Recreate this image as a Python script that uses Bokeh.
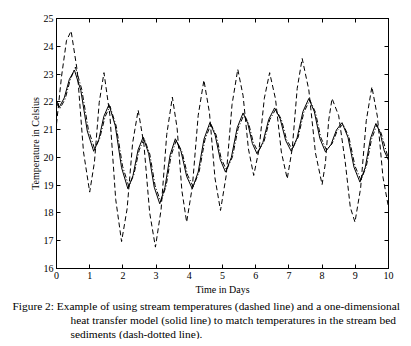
from bokeh.plotting import figure
from bokeh.models import Range1d, LinearAxis, Title, CustomJSTickFormatter, FixedTicker
from bokeh.embed import file_html
from bokeh.resources import INLINE

# ---- data ----
stream_t = [0.0, 0.15, 0.3, 0.44, 0.627, 0.813, 1.0, 1.143, 1.287, 1.43, 1.607, 1.783, 1.96, 2.127, 2.293,
            2.46, 2.633, 2.807, 2.98, 3.15, 3.32, 3.49, 3.633, 3.777, 3.92, 4.093, 4.267, 4.44, 4.607, 4.773,
            4.94, 5.113, 5.287, 5.46, 5.62, 5.78, 5.94, 6.1, 6.26, 6.42, 6.597, 6.773, 6.95, 7.1, 7.25,
            7.4, 7.6, 7.8, 8.0, 8.1, 8.2, 8.3, 8.5, 8.7, 8.85, 8.99, 9.16, 9.33, 9.5, 9.667, 9.833, 10.0]
stream_v = [21.2, 22.9, 24.2, 24.55, 23.1, 20.2, 18.75, 19.83, 21.98, 23.05, 21.53, 18.49, 16.97, 18.15, 20.52,
            21.7, 20.47, 18.0, 16.77, 18.12, 20.82, 22.17, 21.05, 18.8, 17.67, 18.95, 21.5, 22.78, 21.61, 19.26,
            18.09, 19.36, 21.9, 23.17, 22.22, 20.31, 19.35, 20.28, 22.13, 23.05, 22.1, 20.19, 19.23, 20.31, 22.48,
            23.56, 22.43, 20.16, 19.02, 19.8, 21.35, 22.12, 21.5, 19.8, 18.2, 17.67, 18.89, 21.32, 22.54, 21.46, 19.29, 18.2]

model_t = [0.0, 0.08, 0.233, 0.387, 0.54, 0.733, 0.927, 1.12, 1.273, 1.427, 1.58, 1.77, 1.96, 2.15, 2.303,
           2.457, 2.61, 2.777, 2.943, 3.11, 3.267, 3.423, 3.58, 3.75, 3.92, 4.09, 4.267, 4.443, 4.62, 4.777,
           4.933, 5.09, 5.267, 5.443, 5.62, 5.76, 5.9, 6.04, 6.217, 6.393, 6.57, 6.737, 6.903, 7.07, 7.247,
           7.423, 7.6, 7.767, 7.933, 8.1, 8.267, 8.433, 8.6, 8.78, 8.96, 9.14, 9.3, 9.46, 9.62, 9.747, 9.873, 10.0]
model_v = [22.05, 21.8, 22.14, 22.81, 23.14, 22.41, 20.95, 20.22, 20.64, 21.48, 21.9, 21.14, 19.63, 18.87, 19.34,
           20.27, 20.73, 20.13, 18.93, 18.33, 18.92, 20.09, 20.67, 20.22, 19.32, 18.87, 19.47, 20.66, 21.25, 20.81,
           19.92, 19.47, 20.0, 21.07, 21.6, 21.23, 20.5, 20.13, 20.54, 21.37, 21.78, 21.39, 20.61, 20.22, 20.7,
           21.65, 22.12, 21.64, 20.68, 20.2, 20.46, 20.99, 21.25, 20.72, 19.65, 19.11, 19.64, 20.69, 21.22, 20.89, 20.23, 19.9]

sed_t = [0.0, 0.1, 0.26, 0.41, 0.57, 0.76, 0.96, 1.15, 1.3, 1.46, 1.61, 1.8, 1.99, 2.18, 2.33,
         2.49, 2.64, 2.81, 2.97, 3.14, 3.3, 3.45, 3.61, 3.78, 3.95, 4.12, 4.3, 4.47, 4.65, 4.81,
         4.96, 5.12, 5.3, 5.47, 5.65, 5.79, 5.93, 6.07, 6.25, 6.42, 6.6, 6.77, 6.93, 7.1, 7.28,
         7.45, 7.63, 7.8, 7.96, 8.13, 8.3, 8.46, 8.63, 8.81, 8.99, 9.17, 9.33, 9.49, 9.65, 9.78, 9.9, 10.0]
sed_v = [21.95, 21.75, 22.1, 22.78, 23.25, 22.45, 21.0, 20.3, 20.68, 21.45, 21.85, 21.12, 19.68, 18.95, 19.38,
         20.26, 20.68, 20.12, 18.98, 18.4, 18.96, 20.06, 20.62, 20.2, 19.36, 18.94, 19.5, 20.63, 21.2, 20.8,
         19.96, 19.54, 20.02, 21.04, 21.55, 21.21, 20.53, 20.2, 20.57, 21.35, 21.73, 21.38, 20.64, 20.29, 20.73,
         21.62, 22.07, 21.62, 20.72, 20.27, 20.49, 20.97, 21.2, 20.72, 19.69, 19.18, 19.67, 20.66, 21.17, 20.87, 20.35, 19.95]

x_ticks = [0, 1, 2, 3, 4, 5, 6, 7, 8, 9, 10]
y_ticks = [16, 17, 18, 19, 20, 21, 22, 23, 24, 25]

x_label = "Time in Days"
y_label = "Temperature in Celsius"
caption = [
    "Figure 2: Example of using stream temperatures (dashed line) and a one-dimensional",
    "heat transfer model (solid line) to match temperatures in the stream bed",
    "sediments (dash-dotted line).",
]

FONT = "Liberation Serif"

p = figure(width=411, height=346, frame_width=332, frame_height=250,
           x_range=Range1d(0, 10), y_range=Range1d(16, 25),
           output_backend="svg", toolbar_location=None,
           min_border_left=56, min_border_right=23, min_border_top=18, min_border_bottom=0,
           background_fill_color="white", border_fill_color="white")
p.grid.visible = False
p.outline_line_color = "black"
p.outline_line_width = 1

def style_axis(ax):
    ax.axis_line_color = "black"
    ax.major_tick_in = 4
    ax.major_tick_out = 0
    ax.minor_tick_in = 0
    ax.minor_tick_out = 0
    ax.major_tick_line_color = "black"
    ax.major_label_text_font = FONT
    ax.major_label_text_font_size = "10px"
    ax.major_label_text_color = "black"
    ax.axis_label_text_font = FONT
    ax.axis_label_text_font_size = "10px"
    ax.axis_label_text_font_style = "normal"
    ax.axis_label_text_color = "black"

xa = p.xaxis[0]
ya = p.yaxis[0]
xa.ticker = FixedTicker(ticks=x_ticks)
ya.ticker = FixedTicker(ticks=y_ticks)
style_axis(xa)
style_axis(ya)
xa.axis_label = x_label
ya.axis_label = y_label
xa.major_label_standoff = 3
ya.major_label_standoff = 3
xa.axis_label_standoff = 2
ya.axis_label_standoff = 0

blank = CustomJSTickFormatter(code="return '';")
top = LinearAxis(ticker=FixedTicker(ticks=x_ticks), formatter=blank)
right = LinearAxis(ticker=FixedTicker(ticks=y_ticks), formatter=blank)
style_axis(top)
style_axis(right)
top.major_label_standoff = 0
right.major_label_standoff = 0
p.add_layout(top, "above")
p.add_layout(right, "right")

p.line(stream_t, stream_v, line_color="black", line_width=1, line_dash="5 3")
p.line(sed_t, sed_v, line_color="black", line_width=1, line_dash="5 2 1 2")
p.line(model_t, model_v, line_color="black", line_width=1)

cap_offsets = [-44, 14, 14]
for off, txt in zip(cap_offsets, caption):
    p.add_layout(Title(text=txt, align="left", offset=off, standoff=0, text_font=FONT,
                       text_font_size="11.4px", text_line_height=0.95, text_font_style="normal",
                       text_color="black"), "below")

open("out.html", "w").write(file_html(p, INLINE))
